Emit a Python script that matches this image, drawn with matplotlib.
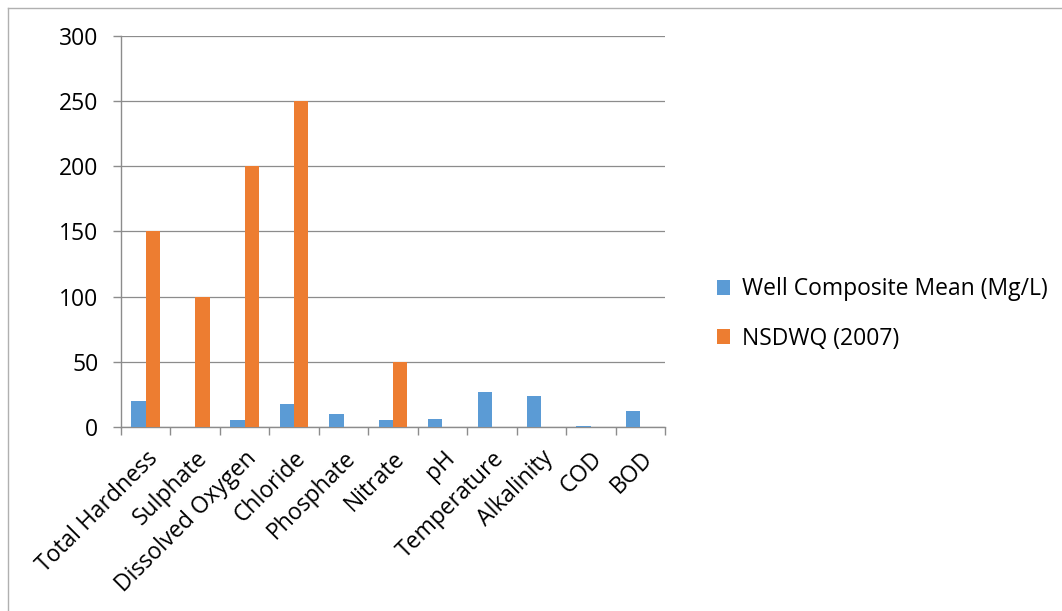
import numpy as np
import matplotlib.pyplot as plt
from matplotlib.lines import Line2D

categories = ["Total Hardness", "Sulphate", "Dissolved Oxygen", "Chloride", "Phosphate",
              "Nitrate", "pH", "Temperature", "Alkalinity", "COD", "BOD"]
well_mean = [20, 0.3, 5, 17.5, 10.2, 5, 6.2, 27, 24, 0.4, 12.3]
nsdwq = [150, 100, 200, 250, 0, 50, 0, 0, 0, 0, 0]
y_ticks = [0, 50, 100, 150, 200, 250, 300]

plt.rcParams['font.family'] = ['Open Sans', 'DejaVu Sans']
fs = 16.5

fig = plt.figure(figsize=(10.62, 6.11), dpi=100)
ax = fig.add_axes([121/1062, 1 - 427/611, 544/1062, 391/611])

x = np.arange(len(categories))
w = 0.29
ax.bar(x - w/2, well_mean, w, color="#5b9bd5", label="Well Composite Mean (Mg/L)", zorder=3)
ax.bar(x + w/2, nsdwq, w, color="#ed7d31", label="NSDWQ (2007)", zorder=3)

ax.set_xlim(-0.5, len(categories) - 0.5)
ax.set_ylim(0, 300)
ax.set_yticks(y_ticks)
ax.set_yticklabels([str(v) for v in y_ticks], fontsize=fs)
ax.yaxis.grid(True, color="#8c8c8c", linewidth=0.9, zorder=0)

ax.set_xticks(np.arange(-0.5, len(categories), 1.0))
ax.set_xticklabels([])
ax.set_xticks(x, minor=True)
ax.set_xticklabels(categories, minor=True, rotation=45, ha="right", rotation_mode="anchor",
                   fontsize=fs)
ax.tick_params(axis="x", which="minor", length=0, pad=14)
ax.tick_params(axis="x", which="major", length=5.8, color="#8c8c8c", width=1)
ax.tick_params(axis="y", length=5.8, color="#8c8c8c", width=1, pad=10.5)

for s in ["top", "right"]:
    ax.spines[s].set_visible(False)
for s in ["left", "bottom"]:
    ax.spines[s].set_color("#8c8c8c")
    ax.spines[s].set_linewidth(1)

ax.legend(loc="center left", bbox_to_anchor=(696/1062, 1 - 314/611), bbox_transform=fig.transFigure,
          frameon=False, fontsize=fs, handlelength=0.6, handleheight=0.6, handletextpad=0.5,
          labelspacing=1.1)

# outer chart border (left and top edges visible)
fig.add_artist(Line2D([8/1062, 8/1062], [0, 1 - 8/611], transform=fig.transFigure, color="#b0b0b0", lw=1))
fig.add_artist(Line2D([8/1062, 1], [1 - 8/611, 1 - 8/611], transform=fig.transFigure, color="#b0b0b0", lw=1))

fig.savefig("out.png", dpi=100)
